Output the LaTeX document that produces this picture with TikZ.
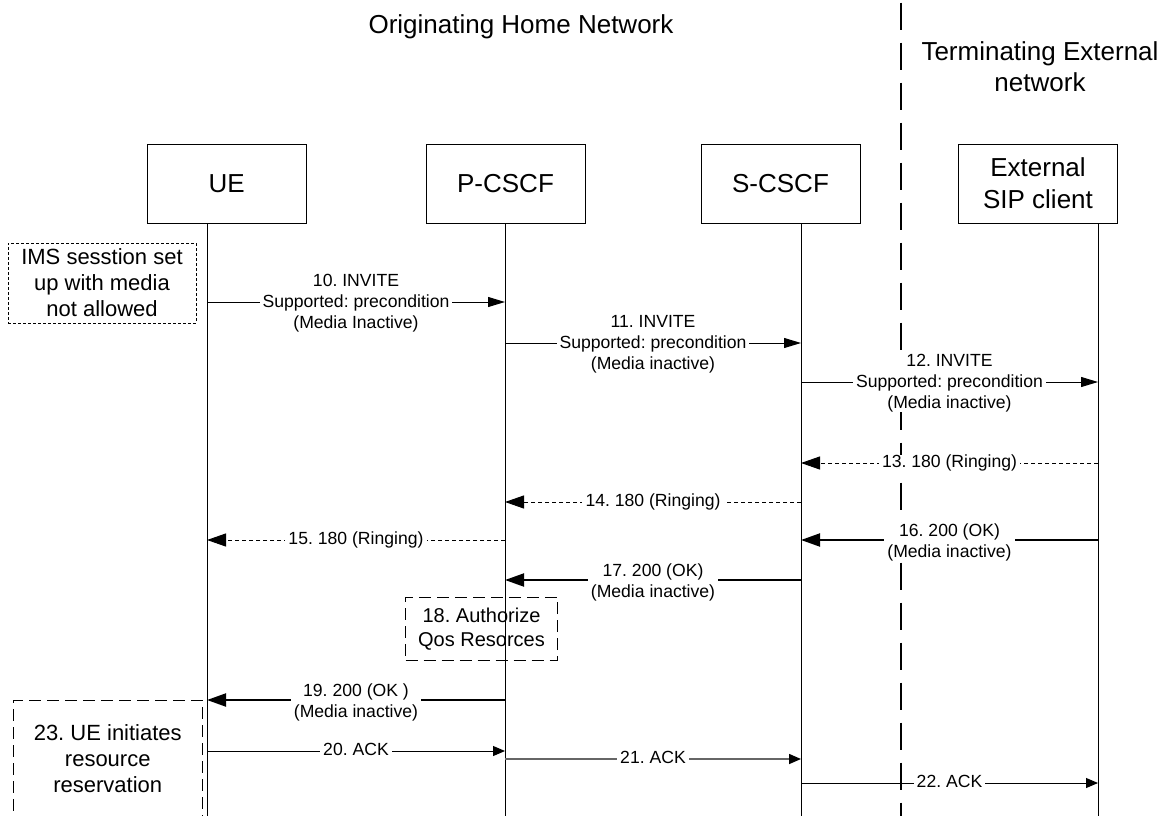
\documentclass[tikz,border=0pt]{standalone}
\usepackage{fontspec}
\setmainfont{Liberation Sans}
\usetikzlibrary{arrows.meta}
\frenchspacing
\begin{document}
\begin{tikzpicture}[x=1pt,y=-1pt,
  entity/.style={draw, line width=1pt, minimum width=159pt, minimum height=79pt, inner sep=0pt, align=center, font=\fontsize{26}{32}\selectfont},
  lifeline/.style={line width=1pt},
  divider/.style={line width=1.3pt, dash pattern=on 27pt off 13pt, dash phase=37.3pt},
  tipS/.style={-{Triangle[length=12pt,width=10pt]}},
  tipM/.style={-{Triangle[length=17pt,width=10pt]}},
  tipL/.style={-{Triangle[length=19pt,width=13pt]}},
  msg/.style={line width=1pt},
  msgthick/.style={line width=2pt},
  msggray/.style={line width=1.5pt, draw=black!60},
  ringing/.style={line width=1pt, dash pattern=on 4pt off 3pt},
  lbl/.style={fill=white, inner xsep=3pt, inner ysep=0pt, align=center, font=\fontsize{17.6}{21}\selectfont},
  notebox/.style={draw, line width=1pt, inner sep=0pt, align=center},
]
\fill[white] (0,0) rectangle (1172,816);
\useasboundingbox (0,0) rectangle (1172,816);

% titles
\node[anchor=base, font=\fontsize{26}{31}\selectfont] (orig) at (521,33.3) {Originating Home Network};
\node[align=center, font=\fontsize{26}{31}\selectfont, inner sep=0pt] (term) at (1040,67) {Terminating External\\network};

% divider
\coordinate (dT) at (901,0);
\coordinate (dB) at (901,816);
\draw[divider] (dT) -- (dB);

% entities
\node[entity] (ue)  at (226.7,183.5) {UE};
\node[entity] (pc)  at (505.5,183.5) {P-CSCF};
\node[entity] (sc)  at (780.5,183.5) {S-CSCF};
\node[entity] (ext) at (1038,183.5) {External\\SIP client};

% lifelines
\coordinate (ueT) at (207,223);  \coordinate (ueB) at (207,816);
\coordinate (pcT) at (505,223);  \coordinate (pcB) at (505,816);
\coordinate (scT) at (801,223);  \coordinate (scB) at (801,816);
\coordinate (extT) at (1098,223); \coordinate (extB) at (1098,816);
\draw[lifeline] (ueT) -- (ueB);
\draw[lifeline] (pcT) -- (pcB);
\draw[lifeline] (scT) -- (scB);
\draw[lifeline] (extT) -- (extB);

% note boxes
\node[notebox, dash pattern=on 3pt off 2pt, minimum width=188pt, minimum height=80pt, font=\fontsize{22}{26}\selectfont] (ims) at (102,283) {IMS sesstion set\\up with media\\not allowed};
\node[notebox, dash pattern=on 12pt off 6pt, minimum width=152pt, minimum height=63pt, font=\fontsize{20}{24}\selectfont] (auth) at (481.5,628.7) {18. Authorize\\Qos Resorces};
\node[notebox, dash pattern=on 12pt off 6pt, minimum width=188.5pt, minimum height=118pt, font=\fontsize{22}{26}\selectfont] (res) at (107.75,759) {23. UE initiates\\resource\\reservation};

% message rows
\coordinate (r10) at (0,302);
\coordinate (r11) at (0,343);
\coordinate (r12) at (0,382);
\coordinate (r13) at (0,463);
\coordinate (r14) at (0,502);
\coordinate (r15) at (0,540);
\coordinate (r16) at (0,540);
\coordinate (r17) at (0,580);
\coordinate (r19) at (0,700);
\coordinate (r20) at (0,751);
\coordinate (r21) at (0,759);
\coordinate (r22) at (0,783);

% messages
\draw[msg,tipM] (ueT |- r10) -- node[lbl,yshift=-1pt]{10. INVITE\\Supported: precondition\\(Media Inactive)} (pcT |- r10);
\draw[msg,tipM] (pcT |- r11) -- node[lbl,yshift=-1pt]{11. INVITE\\Supported: precondition\\(Media inactive)} (scT |- r11);
\draw[msg,tipM] (scT |- r12) -- node[lbl,yshift=-1pt]{12. INVITE\\Supported: precondition\\(Media inactive)} (extT |- r12);
\draw[ringing,tipL] (extT |- r13) -- node[lbl]{13. 180 (Ringing)} (scT |- r13);
\draw[ringing,tipL] (scT |- r14) -- node[lbl]{14. 180 (Ringing)} (pcT |- r14);
\draw[ringing,tipL] (pcT |- r15) -- node[lbl]{15. 180 (Ringing)} (ueT |- r15);
\draw[msgthick,tipL] (extT |- r16) -- node[lbl,yshift=-2pt]{16. 200 (OK)\\(Media inactive)} (scT |- r16);
\draw[msgthick,tipL] (scT |- r17) -- node[lbl,yshift=-2pt]{17. 200 (OK)\\(Media inactive)} (pcT |- r17);
\draw[msgthick,tipL] (pcT |- r19) -- node[lbl,yshift=-2pt]{19. 200 (OK )\\(Media inactive)} (ueT |- r19);
\draw[msg,tipS] (ueT |- r20) -- node[lbl,yshift=2pt]{20. ACK} (pcT |- r20);
\draw[msggray,-{Triangle[length=12pt,width=10pt,color=black]}] (pcT |- r21) -- node[lbl,yshift=2pt]{21. ACK} (scT |- r21);
\draw[msg,tipS] (scT |- r22) -- node[lbl,yshift=2pt]{22. ACK} (extT |- r22);
\end{tikzpicture}
\end{document}
